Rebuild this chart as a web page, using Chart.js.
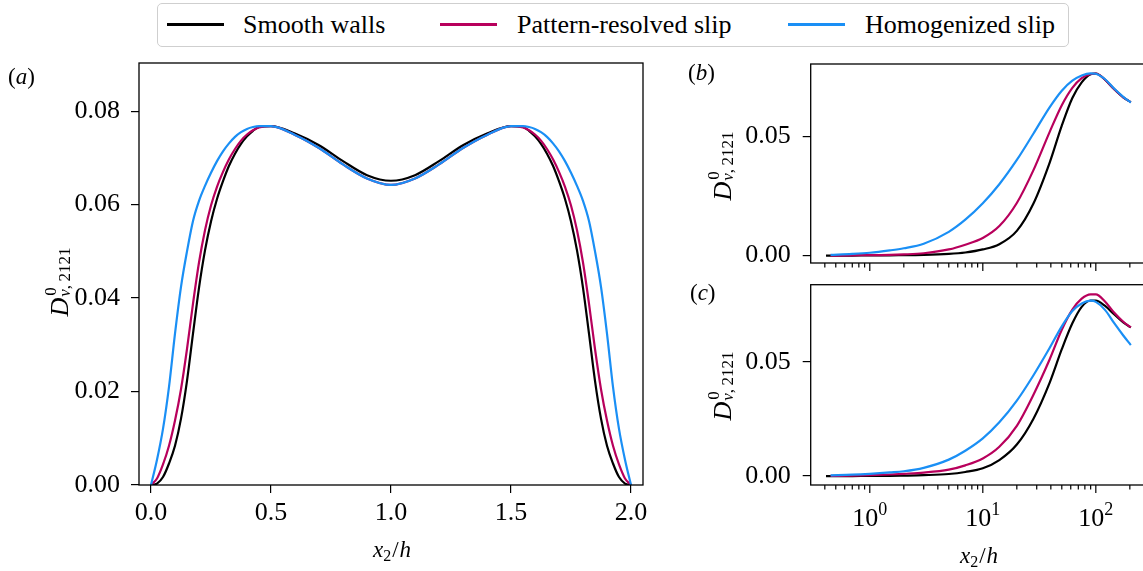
<!DOCTYPE html>
<html>
<head>
<meta charset="utf-8">
<script src="https://cdn.jsdelivr.net/npm/chart.js@4.4.1/dist/chart.umd.min.js"></script>
<style>
  html, body { margin: 0; padding: 0; background: #fff; width: 1143px; height: 571px; overflow: hidden; }
  canvas { position: absolute; left: 0; top: 0; }
  #legend { position: absolute; left: 157px; top: 3px; width: 910px; height: 42px; border: 1.5px solid #cfcfcf; border-radius: 5px; background: #fff; }
  .key { position: absolute; top: 19px; height: 3px; width: 57px; }
  .lbl { position: absolute; top: 8px; font: 26px/26px 'Liberation Serif', 'Times New Roman', serif; color: #000; white-space: nowrap; }
</style>
</head>
<body>
<canvas id="chartA" width="1160" height="571"></canvas>
<canvas id="chartB" width="1160" height="571"></canvas>
<canvas id="chartC" width="1160" height="571"></canvas>
<div id="legend">
  <div class="key" style="left:9px;background:#000"></div>
  <div class="lbl" style="left:85px">Smooth walls</div>
  <div class="key" style="left:282px;background:#B8005C"></div>
  <div class="lbl" style="left:359px">Pattern-resolved slip</div>
  <div class="key" style="left:630px;background:#1A8FF5"></div>
  <div class="lbl" style="left:707px">Homogenized slip</div>
</div>
<script>
const SERIF = "'Liberation Serif', 'Times New Roman', serif";
const colSmooth = '#000000';
const colPattern = '#B8005C';
const colHomog = '#1A8FF5';

// panel (a): profile across the channel
const xA = [0, 0.025, 0.05, 0.075, 0.1, 0.125, 0.15, 0.175, 0.2, 0.225, 0.25, 0.275, 0.3, 0.325, 0.35, 0.375, 0.4, 0.425, 0.45, 0.5,
            0.6, 0.7, 0.8, 0.9, 1.0, 1.1, 1.2, 1.3, 1.4,
            1.5, 1.55, 1.575, 1.6, 1.625, 1.65, 1.675, 1.7, 1.725, 1.75, 1.775, 1.8, 1.825, 1.85, 1.875, 1.9, 1.925, 1.95, 1.975, 2.0];
const smoothA = [0, 0.0003, 0.0017, 0.0046, 0.0084, 0.0142, 0.0223, 0.0324, 0.0422, 0.0502, 0.0564, 0.0612, 0.0650, 0.0683, 0.0709, 0.0730, 0.0746, 0.0758, 0.0766, 0.0768,
                 0.0752, 0.0727, 0.0693, 0.0663, 0.0651, 0.0663, 0.0693, 0.0727, 0.0752,
                 0.0768, 0.0766, 0.0758, 0.0746, 0.0730, 0.0709, 0.0683, 0.0650, 0.0612, 0.0564, 0.0502, 0.0422, 0.0324, 0.0223, 0.0142, 0.0084, 0.0046, 0.0017, 0.0003, 0];
const patternA = [0, 0.0014, 0.0044, 0.0084, 0.0138, 0.0205, 0.0291, 0.0388, 0.0476, 0.0545, 0.0598, 0.0638, 0.0670, 0.0697, 0.0719, 0.0737, 0.0750, 0.0759, 0.0765, 0.0768,
                  0.0749, 0.0721, 0.0686, 0.0656, 0.0642, 0.0656, 0.0686, 0.0721, 0.0749,
                  0.0768, 0.0765, 0.0759, 0.0750, 0.0737, 0.0719, 0.0697, 0.0670, 0.0638, 0.0598, 0.0545, 0.0476, 0.0388, 0.0291, 0.0205, 0.0138, 0.0084, 0.0044, 0.0014, 0];
const homogA = [0, 0.0054, 0.0120, 0.0210, 0.0324, 0.0424, 0.0500, 0.0565, 0.0608, 0.0640, 0.0668, 0.0693, 0.0714, 0.0731, 0.0745, 0.0755, 0.0762, 0.0766, 0.0768, 0.0768,
                0.0749, 0.0721, 0.0686, 0.0656, 0.0642, 0.0656, 0.0686, 0.0721, 0.0749,
                0.0768, 0.0768, 0.0766, 0.0762, 0.0755, 0.0745, 0.0731, 0.0714, 0.0693, 0.0668, 0.0640, 0.0608, 0.0565, 0.0500, 0.0424, 0.0324, 0.0210, 0.0120, 0.0054, 0];
const xTicksA = [0, 0.5, 1.0, 1.5, 2.0];
const yTicksA = [0, 0.02, 0.04, 0.06, 0.08];

// panels (b) and (c): wall-normal distance on a log axis
const xLog = [0.45, 0.7, 1, 1.5, 2, 3, 5, 7, 10, 14, 20, 28, 39, 50, 62, 75, 90, 100, 120, 145, 175, 204];
const xLogSmooth = [0.41, 0.7, 1, 1.5, 2, 3, 5, 7, 10, 14, 20, 28, 39, 50, 62, 75, 90, 100, 120, 145, 175, 204];
const smoothB  = [0, 0, 0.0001, 0.0001, 0.0002, 0.0003, 0.0007, 0.0013, 0.0026, 0.0048, 0.0104, 0.0218, 0.0390, 0.0546, 0.0662, 0.0728, 0.0762, 0.0765, 0.0740, 0.0700, 0.0665, 0.0645];
const patternB = [0, 0.0001, 0.0002, 0.0003, 0.0005, 0.0010, 0.0026, 0.0046, 0.0074, 0.0124, 0.0221, 0.0358, 0.0519, 0.0632, 0.0705, 0.0746, 0.0763, 0.0765, 0.0740, 0.0700, 0.0665, 0.0645];
const homogB   = [0.0003, 0.0007, 0.0012, 0.0022, 0.0031, 0.0050, 0.0100, 0.0151, 0.0220, 0.0300, 0.0402, 0.0512, 0.0623, 0.0693, 0.0735, 0.0757, 0.0766, 0.0764, 0.0742, 0.0702, 0.0667, 0.0643];
const smoothC  = [0, 0, 0.0001, 0.0001, 0.0002, 0.0004, 0.0009, 0.0018, 0.0034, 0.0070, 0.0138, 0.0250, 0.0408, 0.0555, 0.0668, 0.0740, 0.0768, 0.0768, 0.0745, 0.0708, 0.0672, 0.0650];
const patternC = [0.0001, 0.0002, 0.0004, 0.0007, 0.0010, 0.0015, 0.0028, 0.0047, 0.0077, 0.0128, 0.0220, 0.0355, 0.0510, 0.0640, 0.0728, 0.0776, 0.0795, 0.0795, 0.0765, 0.0715, 0.0675, 0.0650];
const homogC   = [0.0003, 0.0006, 0.0010, 0.0016, 0.0021, 0.0036, 0.0072, 0.0111, 0.0165, 0.0235, 0.0330, 0.0440, 0.0560, 0.0655, 0.0722, 0.0755, 0.0767, 0.0762, 0.0728, 0.0670, 0.0615, 0.0573];
const yTicksBC = [0, 0.05];
const logMajor = [1, 10, 100];
const logMinor = [0.4, 0.5, 0.6, 0.7, 0.8, 0.9, 2, 3, 4, 5, 6, 7, 8, 9, 20, 30, 40, 50, 60, 70, 80, 90, 200];

function pts(xs, ys) { return xs.map((x, i) => ({x: x, y: ys[i]})); }

function series(xs, s, p, h, xsSmooth) {
    const base = {pointRadius: 0, borderWidth: 2.2, fill: false, cubicInterpolationMode: 'monotone'};
    return [
        Object.assign({label: 'Smooth walls', data: pts(xsSmooth || xs, s), borderColor: colSmooth, order: 3}, base),
        Object.assign({label: 'Pattern-resolved slip', data: pts(xs, p), borderColor: colPattern, order: 2}, base),
        Object.assign({label: 'Homogenized slip', data: pts(xs, h), borderColor: colHomog, order: 1}, base)
    ];
}

// draws pieces of text one after another, sub/superscripts via dy
function drawRuns(ctx, runs, x, y, measureOnly) {
    let cx = x, w = 0;
    runs.forEach(r => {
        ctx.font = (r.i ? 'italic ' : '') + r.s + 'px ' + SERIF;
        const rw = ctx.measureText(r.t).width;
        if (!measureOnly) ctx.fillText(r.t, cx + (r.dx || 0), y + (r.dy || 0));
        w = Math.max(w, cx + (r.dx || 0) + rw - x);
        if (!r.keep) cx += rw + (r.dx || 0);
    });
    return w;
}

const dLabel = [
    {t: 'D', s: 26, i: true},
    {t: '0', s: 17, dy: -12, dx: 2, keep: true},
    {t: 'v', s: 17, i: true, dy: 2, dx: 1},
    {t: ',\u20092121', s: 17, dy: 2}
];
const xLabel = [
    {t: 'x', s: 23, i: true},
    {t: '2', s: 16, dy: 4},
    {t: '/', s: 23, dx: 1},
    {t: 'h', s: 23, i: true, dx: 1}
];

function decor(o) {
    return {
        id: 'decor',
        afterDatasetsDraw(chart) {
            const ctx = chart.ctx, a = chart.chartArea;
            ctx.save();
            ctx.strokeStyle = '#000';
            ctx.lineWidth = 1.3;
            ctx.strokeRect(a.left, a.top, a.right - a.left, a.bottom - a.top);
            ctx.fillStyle = '#000';
            ctx.textBaseline = 'alphabetic';

            if (o.logTicks) {
                const xs = chart.scales.x;
                const marks = logMajor.map(v => [v, 8]).concat(logMinor.map(v => [v, 4.5]));
                ctx.lineWidth = 1.2;
                marks.forEach(([v, len]) => {
                    const px = xs.getPixelForValue(v);
                    ctx.beginPath();
                    ctx.moveTo(px, a.bottom);
                    ctx.lineTo(px, a.bottom + len);
                    ctx.stroke();
                });
                if (o.logLabels) {
                    logMajor.forEach(v => {
                        const px = xs.getPixelForValue(v);
                        const runs = [{t: '10', s: 26}, {t: String(Math.round(Math.log10(v))), s: 18, dy: -11}];
                        const w = drawRuns(ctx, runs, 0, 0, true);
                        drawRuns(ctx, runs, px - w / 2, a.bottom + 41);
                    });
                }
            }

            // panel letter
            drawRuns(ctx, [{t: '(', s: 23}, {t: o.letter, s: 23, i: true}, {t: ')', s: 23}], o.letterX, o.letterY);

            // y title, rotated
            const wy = drawRuns(ctx, dLabel, 0, 0, true);
            ctx.save();
            ctx.translate(o.yTitleX, o.yTitleY);
            ctx.rotate(-Math.PI / 2);
            drawRuns(ctx, dLabel, -wy / 2, 0);
            ctx.restore();

            // x title
            if (o.xTitleY) {
                const wx = drawRuns(ctx, xLabel, 0, 0, true);
                drawRuns(ctx, xLabel, o.xTitleX - wx / 2, o.xTitleY);
            }
            ctx.restore();
        }
    };
}

function tickAxis(extra) {
    return Object.assign({
        border: {display: false},
        grid: {display: true, drawOnChartArea: false, drawTicks: true, tickLength: 8, color: '#000', lineWidth: 1.2},
        ticks: {font: {family: SERIF, size: 26}, color: '#000', maxRotation: 0, autoSkip: false}
    }, extra);
}

function baseOptions(pad, scales) {
    return {
        responsive: false,
        animation: false,
        layout: {padding: pad},
        plugins: {legend: {display: false}, tooltip: {enabled: false}},
        scales: scales
    };
}

function buildA() {
    new Chart(document.getElementById('chartA'), {
        type: 'line',
        data: {datasets: series(xA, smoothA, patternA, homogA)},
        options: baseOptions({left: 59, top: 63, right: 517, bottom: 46}, {
            x: tickAxis({
                type: 'linear', min: -0.05, max: 2.05,
                afterBuildTicks: s => { s.ticks = xTicksA.map(v => ({value: v})); },
                afterFit: s => { s.height = 40; },
                ticks: {font: {family: SERIF, size: 26}, color: '#000', maxRotation: 0, autoSkip: false, padding: 5,
                        callback: v => v.toFixed(1)}
            }),
            y: tickAxis({
                type: 'linear', min: 0, max: 0.0903,
                afterBuildTicks: s => { s.ticks = yTicksA.map(v => ({value: v})); },
                afterFit: s => { s.width = 80; },
                ticks: {font: {family: SERIF, size: 26}, color: '#000', padding: 11, callback: v => v.toFixed(2)}
            })
        }),
        plugins: [decor({letter: 'a', letterX: 8, letterY: 84, yTitleX: 68, yTitleY: 282, xTitleX: 392, xTitleY: 557})]
    });
}

function logChart(id, s, p, h, yMin, yMax, pad, xH, deco) {
    return new Chart(document.getElementById(id), {
        type: 'line',
        data: {datasets: series(xLog, s, p, h, xLogSmooth)},
        options: baseOptions(pad, {
            x: {
                type: 'logarithmic', min: 0.3, max: 278,
                border: {display: false}, grid: {display: false}, ticks: {display: false},
                afterFit: sc => { sc.height = xH; }
            },
            y: tickAxis({
                type: 'linear', min: yMin, max: yMax,
                afterBuildTicks: sc => { sc.ticks = yTicksBC.map(v => ({value: v})); },
                afterFit: sc => { sc.width = 80; },
                ticks: {font: {family: SERIF, size: 26}, color: '#000', padding: 12, callback: v => v.toFixed(2)}
            })
        }),
        plugins: [decor(deco)]
    });
}

function buildAll() {
    buildA();
    logChart('chartB', smoothB, patternB, homogB, -0.0031, 0.0805,
        {left: 730.7, top: 64, right: 14, bottom: 298}, 10,
        {letter: 'b', letterX: 688, letterY: 80, yTitleX: 731, yTitleY: 166, logTicks: true});
    logChart('chartC', smoothC, patternC, homogC, -0.0039, 0.0837,
        {left: 730.7, top: 284.7, right: 14, bottom: 46}, 40,
        {letter: 'c', letterX: 690, letterY: 300, yTitleX: 731, yTitleY: 386, logTicks: true, logLabels: true,
         xTitleX: 979, xTitleY: 563});
}

// make sure the serif faces are ready before the canvases use them
Promise.all([
    "26px 'Liberation Serif'", "italic 26px 'Liberation Serif'"
].map(f => document.fonts.load(f))).then(buildAll, buildAll);
</script>
</body>
</html>
